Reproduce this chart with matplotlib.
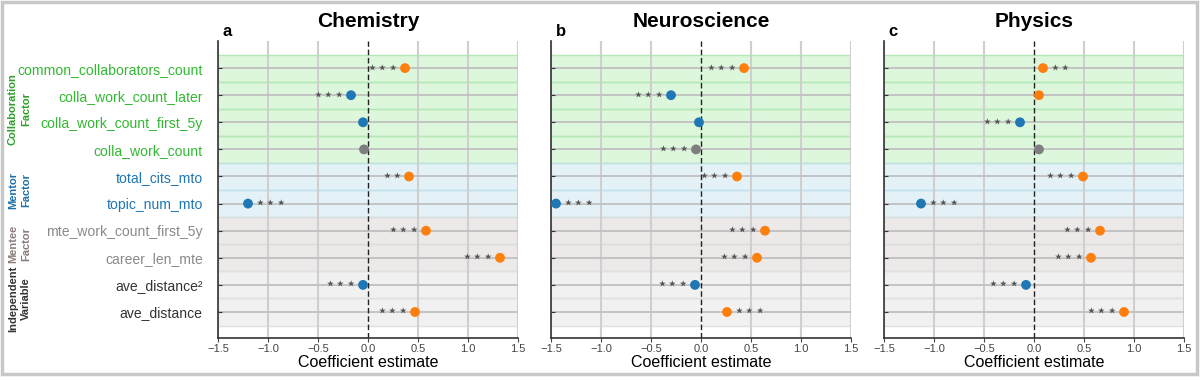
import numpy as np
import matplotlib.pyplot as plt
from matplotlib.patches import Rectangle

plt.rcParams['font.family'] = ['Liberation Sans', 'DejaVu Sans']

features = ['common_collaborators_count', 'colla_work_count_later', 'colla_work_count_first_5y',
            'colla_work_count', 'total_cits_mto', 'topic_num_mto', 'mte_work_count_first_5y',
            'career_len_mte', 'ave_distance\u00b2', 'ave_distance']
groups = ['collab'] * 4 + ['mentor'] * 2 + ['mentee'] * 2 + ['indep'] * 2

fields = ['Chemistry', 'Neuroscience', 'Physics']
letters = ['a', 'b', 'c']

chem_coef = [0.37, -0.17, -0.05, -0.04, 0.41, -1.20, 0.58, 1.32, -0.05, 0.47]
neuro_coef = [0.43, -0.30, -0.02, -0.05, 0.36, -1.45, 0.64, 0.56, -0.06, 0.26]
phys_coef = [0.09, 0.05, -0.14, 0.05, 0.49, -1.13, 0.66, 0.57, -0.08, 0.90]

chem_sig = [3, 3, 0, 0, 2, 3, 3, 3, 3, 3]
neuro_sig = [3, 3, 0, 3, 3, 3, 3, 3, 3, 3]
phys_sig = [2, 0, 3, 0, 3, 3, 3, 3, 3, 3]

# side of the stars: L = left of point, R = right
chem_side = ['L', 'L', 'L', 'L', 'L', 'R', 'L', 'L', 'L', 'L']
neuro_side = ['L', 'L', 'L', 'L', 'L', 'R', 'L', 'L', 'L', 'R']
phys_side = ['R', 'L', 'L', 'L', 'L', 'R', 'L', 'L', 'L', 'L']

# point colour code: p = positive, n = negative, g = grey
chem_col = ['p', 'n', 'n', 'g', 'p', 'n', 'p', 'p', 'n', 'p']
neuro_col = ['p', 'n', 'n', 'g', 'p', 'n', 'p', 'p', 'n', 'p']
phys_col = ['p', 'p', 'n', 'g', 'p', 'n', 'p', 'p', 'n', 'p']

coefs = [chem_coef, neuro_coef, phys_coef]
sigs = [chem_sig, neuro_sig, phys_sig]
sides = [chem_side, neuro_side, phys_side]
cols = [chem_col, neuro_col, phys_col]

point_colors = {'p': '#ff7f0e', 'n': '#1f77b4', 'g': '#7f7f7f'}
band_colors = {'collab': '#ddf7dd', 'mentor': '#e4f2f7', 'mentee': '#ece9e8', 'indep': '#f1f1f1'}
band_lines = {'collab': '#b4e8b4', 'mentor': '#c2dfeb', 'mentee': '#dcdcdc', 'indep': '#e0e0e0'}
label_colors = {'collab': '#33b833', 'mentor': '#1f77b4', 'mentee': '#8a8a8a', 'indep': '#333333'}

group_titles = [('Collaboration', 'Factor', '#2ea02e', 7.5),
                ('Mentor', 'Factor', '#1f6fa8', 4.5),
                ('Mentee', 'Factor', '#8c7a7a', 2.5),
                ('Independent', 'Variable', '#333333', 0.5)]

n = len(features)
ypos = np.arange(n)[::-1]  # first feature on top

fig = plt.figure(figsize=(12, 3.81), dpi=100)
lefts = [218 / 1200, 551 / 1200, 884 / 1200]
W = 300 / 1200
B = 1 - 338 / 381
H = (338 - 41) / 381

for k in range(3):
    ax = fig.add_axes([lefts[k], B, W, H])
    ax.set_xlim(-1.5, 1.5)
    ax.set_ylim(-0.96, 10.0)

    # background bands per row
    for i in range(n):
        g = groups[i]
        ax.axhspan(ypos[i] - 0.5, ypos[i] + 0.5, color=band_colors[g], lw=0, zorder=0)
    for i in range(n):
        g = groups[i]
        ax.axhline(ypos[i] - 0.5, color=band_lines[g], lw=1.0, zorder=0.5)
        ax.axhline(ypos[i] + 0.5, color=band_lines[g], lw=1.0, zorder=0.5)

    for xv in [-1.5, -1.0, -0.5, 0.5, 1.0, 1.5]:
        ax.axvline(xv, color='#cfcfcf', lw=1.5, zorder=1)
    for yv in ypos:
        ax.axhline(yv, color='#c0c0c0', lw=1.3, zorder=1)
    ax.axvline(0, color='#222222', lw=1.0, ls=(0, (4, 2)), zorder=2)

    for i in range(n):
        x = coefs[k][i]
        ax.scatter(x, ypos[i], s=50, color=point_colors[cols[k][i]], zorder=4, edgecolors='none')
        if sigs[k][i]:
            stars = '\u22c6' * sigs[k][i]
            if sides[k][i] == 'L':
                ax.annotate(stars, (x, ypos[i]), xytext=(-4, 0), textcoords='offset points',
                            ha='right', va='center', fontsize=12.5, color='#555555',
                            family='DejaVu Sans', zorder=5)
            else:
                ax.annotate(stars, (x, ypos[i]), xytext=(5, 0), textcoords='offset points',
                            ha='left', va='center', fontsize=12.5, color='#555555',
                            family='DejaVu Sans', zorder=5)

    ax.set_yticks(ypos)
    if k == 0:
        ax.set_yticklabels(features, fontsize=10.1)
        for lab, g in zip(ax.get_yticklabels(), groups):
            lab.set_color(label_colors[g])
    else:
        ax.set_yticklabels([])
    ax.tick_params(axis='y', direction='in', length=3, pad=11, color='#333333')

    ax.set_xticks([-1.5, -1.0, -0.5, 0.0, 0.5, 1.0, 1.5])
    ax.set_xticklabels(['\u22121.5', '\u22121.0', '\u22120.5', '0.0', '0.5', '1.0', '1.5'])
    ax.tick_params(axis='x', direction='out', length=3, labelsize=8, colors='#444444', pad=1)
    ax.set_xlabel('Coefficient estimate', fontsize=11.5, labelpad=1)

    for s in ['top', 'right']:
        ax.spines[s].set_visible(False)
    for s in ['left', 'bottom']:
        ax.spines[s].set_color('#333333')
        ax.spines[s].set_linewidth(1.2)

    ax.text(0.5, 1.066, fields[k], transform=ax.transAxes, ha='center', va='center',
            fontsize=15, fontweight='bold')
    ax.text(0.015, 1.008, letters[k], transform=ax.transAxes, ha='left', va='bottom',
            fontsize=12, fontweight='bold')

    if k == 0:
        for t1, t2, c, yc in group_titles:
            yfig = ax.transData.transform((0, yc))[1]
            yfig = fig.transFigure.inverted().transform((0, yfig))[1]
            fig.text(13 / 1200, yfig, t1, rotation=90, ha='center', va='center',
                     fontsize=8, fontweight='bold', color=c)
            fig.text(26 / 1200, yfig, t2, rotation=90, ha='center', va='center',
                     fontsize=8, fontweight='bold', color=c)

fig.patches.append(Rectangle((1.5 / 1200, 7 / 381), 1195 / 1200, 372.5 / 381,
                             transform=fig.transFigure, fill=False, edgecolor='#c8c8c8', lw=2.5))

fig.savefig('out.png', dpi=100)
